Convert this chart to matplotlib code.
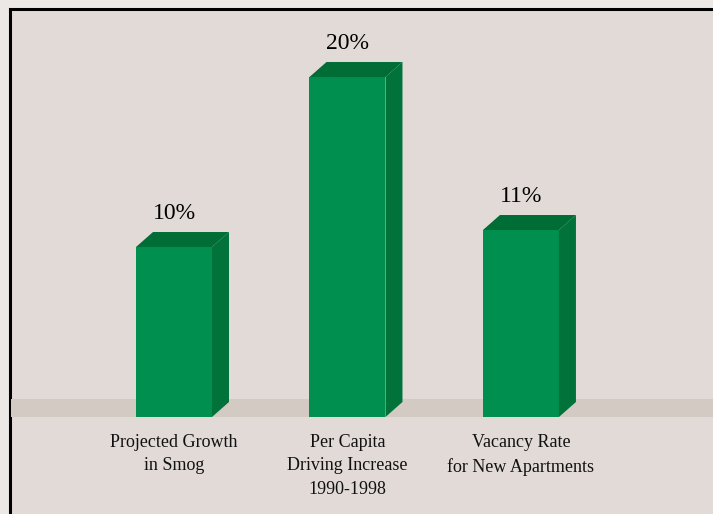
import matplotlib
matplotlib.use("Agg")
import matplotlib.pyplot as plt
from matplotlib.patches import Rectangle, Polygon

# values in percent
categories = ["Projected Growth\nin Smog",
              "Per Capita\nDriving Increase\n1990-1998",
              "Vacancy Rate\nfor New Apartments"]
values = [10, 20, 11]
value_labels = ["10%", "20%", "11%"]

front_col = "#008f4e"
top_col = "#006d37"
side_col = "#00723a"
panel_col = "#e2dad7"
outer_col = "#ece8e5"
floor_col = "#d3cac4"

fig = plt.figure(figsize=(7.13, 5.14), dpi=100, facecolor=outer_col)
ax = fig.add_axes([0, 0, 1, 1])
ax.set_xlim(-1.003, 3.107)
ax.set_ylim(-5.706, 24.53)
ax.axis("off")

# panel with black frame (top/left edges visible)
ax.add_patch(Rectangle((0.0137, -0.1), 1.2, 1.0828, transform=ax.transAxes,
                       facecolor=panel_col, edgecolor="black", lw=2.2, zorder=0))

width = 0.438
dx = 0.098   # depth offset, x
dy = 0.882   # depth offset, y

# floor band
ax.add_patch(Rectangle((0.0155, 0), 1.2, dy * 1.2,
                       transform=ax.get_yaxis_transform(),
                       facecolor=floor_col, edgecolor="none", zorder=1))

for i, v in enumerate(values):
    x0 = i - width / 2
    x1 = i + width / 2
    ax.add_patch(Rectangle((x0, 0), width, v, facecolor=front_col,
                           edgecolor="none", zorder=3))
    ax.add_patch(Polygon([(x0, v), (x0 + dx, v + dy), (x1 + dx, v + dy), (x1, v)],
                         closed=True, facecolor=top_col, edgecolor="none", zorder=3))
    ax.add_patch(Polygon([(x1, 0), (x1 + dx, dy), (x1 + dx, v + dy), (x1, v)],
                         closed=True, facecolor=side_col, edgecolor="none", zorder=3))
    ax.text(i, v + dy + 0.75, value_labels[i], ha="center", va="baseline",
            fontsize=17, family="Liberation Serif", color="black")
    ax.text(i, -1.0, categories[i], ha="center", va="top", fontsize=13,
            family="Liberation Serif", color="#111111", linespacing=1.5)

fig.savefig("out.png", dpi=100, facecolor=outer_col)
